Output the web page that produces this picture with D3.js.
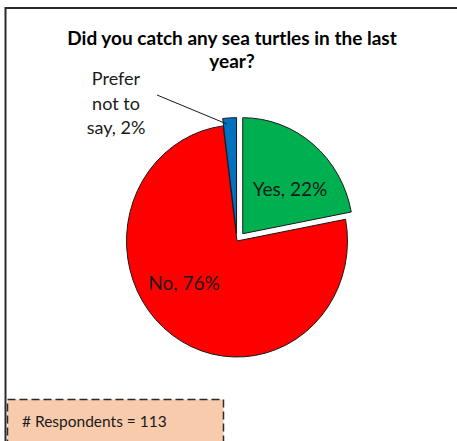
<!DOCTYPE html>
<html>
<head>
<meta charset="utf-8">
<script src="https://cdn.jsdelivr.net/npm/d3@7"></script>
<style>
  html, body { margin: 0; padding: 0; background: #ffffff; }
  svg { display: block; }
</style>
</head>
<body>
<svg id="chart" width="457" height="441"></svg>
<script>
// Survey answers, in drawing order (clockwise from 12 o'clock)
const categories = ["Yes", "No", "Prefer not to say"];
const shares = [22, 76, 2];
const labelLines = [["Yes, 22%"], ["No, 76%"], ["Prefer", "not to", "say, 2%"]];
const titleLines = ["Did you catch any sea turtles in the last", "year?"];
const respondents = 113;

// Styling and layout
const colors = ["#00B050", "#FF0000", "#0070C0"];
const explode = [9, 0, 7];           // px pulled out along each slice's bisector
const W = 457, H = 441;
const cx = 237, cy = 241, radius = 110.5, yStretch = 1.05;
const labelFont = "Lato, 'Noto Sans', sans-serif";

const svg = d3.select("#chart");

// Outer chart frame (extends past the right and bottom edges)
svg.append("rect")
  .attr("x", 5.5).attr("y", 8)
  .attr("width", W + 20).attr("height", H + 20)
  .attr("fill", "#ffffff")
  .attr("stroke", "#2b2b2b").attr("stroke-width", 2);

// Title
const title = svg.append("text")
  .attr("text-anchor", "middle")
  .attr("font-family", labelFont)
  .attr("font-weight", "bold")
  .attr("font-size", 19)
  .attr("fill", "#000");
titleLines.forEach((t, i) => {
  title.append("tspan").attr("x", 232).attr("y", 45 + i * 23).text(t);
});

// Pie
const pie = d3.pie().sort(null).value(d => d)(shares);
const arc = d3.arc().innerRadius(0).outerRadius(radius);

const pieG = svg.append("g")
  .attr("transform", `translate(${cx},${cy}) scale(1,${yStretch})`);

pieG.selectAll("path")
  .data(pie)
  .join("path")
  .attr("transform", (d, i) => {
    const mid = (d.startAngle + d.endAngle) / 2;
    return `translate(${Math.sin(mid) * explode[i]},${-Math.cos(mid) * explode[i]})`;
  })
  .attr("d", arc)
  .attr("fill", (d, i) => colors[i])
  .attr("stroke", "#1a1a1a")
  .attr("stroke-width", 1)
  .attr("vector-effect", "non-scaling-stroke");

// Data labels (positions relative to the pie centre)
const labelPos = [
  { x: 53, y: -45, size: 19 },
  { x: -53, y: 49, size: 19 },
  { x: -121, y: -156, size: 18 }
];
const lineGap = 24.5;

labelLines.forEach((lines, i) => {
  const t = svg.append("text")
    .attr("text-anchor", "middle")
    .attr("font-family", labelFont)
    .attr("font-size", labelPos[i].size)
    .attr("fill", "#1a1a1a");
  lines.forEach((s, j) => {
    t.append("tspan")
      .attr("x", cx + labelPos[i].x)
      .attr("y", cy + labelPos[i].y + j * lineGap)
      .text(s);
  });
});

// Leader line from the small slice's label to the slice
{
  const d = pie[2];
  const mid = (d.startAngle + d.endAngle) / 2;
  const ox = Math.sin(mid) * explode[2];
  const oy = -Math.cos(mid) * explode[2];
  const a = d.startAngle + (d.endAngle - d.startAngle) * 0.25;
  const r = radius * 0.95;
  const ex = cx + ox + Math.sin(a) * r;
  const ey = cy + (oy - Math.cos(a) * r) * yStretch;
  svg.append("line")
    .attr("x1", 157).attr("y1", 95)
    .attr("x2", ex).attr("y2", ey)
    .attr("stroke", "#1a1a1a").attr("stroke-width", 1);
}

// Respondents note box
svg.append("rect")
  .attr("x", 7.5).attr("y", 399.5)
  .attr("width", 216).attr("height", 60)
  .attr("fill", "#F8CBAD")
  .attr("stroke", "#2b2b2b").attr("stroke-width", 1.5)
  .attr("stroke-dasharray", "8,4");

svg.append("text")
  .attr("x", 22).attr("y", 426.5)
  .attr("font-family", labelFont)
  .attr("font-size", 15.5)
  .attr("fill", "#1a1a1a")
  .text(`# Respondents = ${respondents}`);
</script>
</body>
</html>
